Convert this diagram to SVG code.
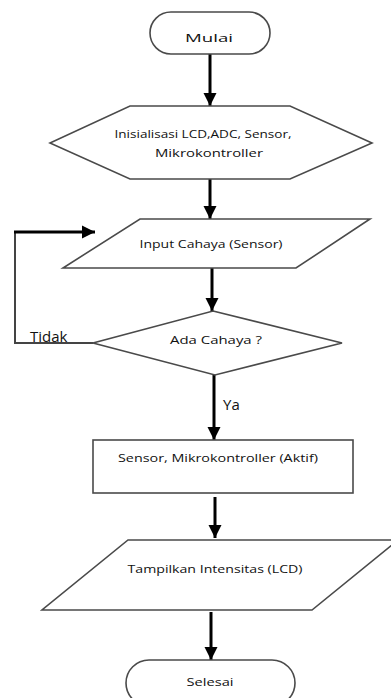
<svg xmlns="http://www.w3.org/2000/svg" width="391" height="698" viewBox="0 0 391 698">
<style>
.shape{fill:#fff;stroke:#4a4a4a;stroke-width:1.6}
.t{font-family:"Open Sans","Liberation Sans",sans-serif;font-size:11.5px;fill:#111;text-anchor:middle}
.lbl{font-family:"Open Sans","Liberation Sans",sans-serif;font-size:15px;fill:#111}
.arr{stroke:#000;stroke-width:3;fill:none}
.loop{stroke:#444;stroke-width:2;fill:none}
</style>
<defs>
<marker id="ah" markerUnits="userSpaceOnUse" markerWidth="14" markerHeight="14" viewBox="0 0 14 14" refX="13" refY="7" orient="auto">
<path d="M0,0.5 L13,7 L0,13.5 Z" fill="#000"/>
</marker>
</defs>
<rect width="391" height="698" fill="#fff"/>
<g id="connectors">
<line class="arr" x1="210" y1="54" x2="210" y2="106" marker-end="url(#ah)"/>
<line class="arr" x1="210" y1="179" x2="210" y2="219" marker-end="url(#ah)"/>
<line class="arr" x1="212" y1="268" x2="212" y2="311" marker-end="url(#ah)"/>
<line class="arr" x1="214" y1="375" x2="214" y2="440" marker-end="url(#ah)"/>
<line class="arr" x1="215" y1="497" x2="215" y2="538" marker-end="url(#ah)"/>
<line class="arr" x1="211" y1="612" x2="211" y2="660" marker-end="url(#ah)"/>
<polyline class="loop" points="93,343 15,343 15,232"/>
<line class="arr" x1="14" y1="232" x2="95" y2="232" marker-end="url(#ah)"/>
<text class="lbl" x="30" y="342">Tidak</text>
<text class="lbl" x="223" y="410">Ya</text>
</g>
<g id="mulai">
<rect class="shape" x="150" y="12" width="120" height="42" rx="21"/>
<text class="t" x="209" y="42" font-size="14" textLength="48" lengthAdjust="spacingAndGlyphs">Mulai</text>
</g>
<g id="inisialisasi">
<polygon class="shape" points="130,106 290,106 372,143 290,179 130,179 50,143"/>
<text class="t" x="203" y="138" textLength="177" lengthAdjust="spacingAndGlyphs">Inisialisasi LCD,ADC, Sensor,</text>
<text class="t" x="209" y="157" textLength="108" lengthAdjust="spacingAndGlyphs">Mikrokontroller</text>
</g>
<g id="input">
<polygon class="shape" points="140,219 370,219 296,268 63,268"/>
<text class="t" x="211" y="248" textLength="143" lengthAdjust="spacingAndGlyphs">Input Cahaya (Sensor)</text>
</g>
<g id="decision">
<polygon class="shape" points="213,311 342,343 215,375 93,343"/>
<text class="t" x="216" y="344" textLength="92" lengthAdjust="spacingAndGlyphs">Ada Cahaya ?</text>
</g>
<g id="aktif">
<rect class="shape" x="93" y="440" width="260" height="53"/>
<text class="t" x="218" y="462" textLength="200" lengthAdjust="spacingAndGlyphs">Sensor, Mikrokontroller (Aktif)</text>
</g>
<g id="tampilkan">
<polygon class="shape" points="128,540 398,540 312,610 42,610"/>
<text class="t" x="215" y="573" textLength="175" lengthAdjust="spacingAndGlyphs">Tampilkan Intensitas (LCD)</text>
</g>
<g id="selesai">
<rect class="shape" x="126" y="660" width="169" height="46" rx="23"/>
<text class="t" x="210" y="686" textLength="47" lengthAdjust="spacingAndGlyphs">Selesai</text>
</g>
</svg>
